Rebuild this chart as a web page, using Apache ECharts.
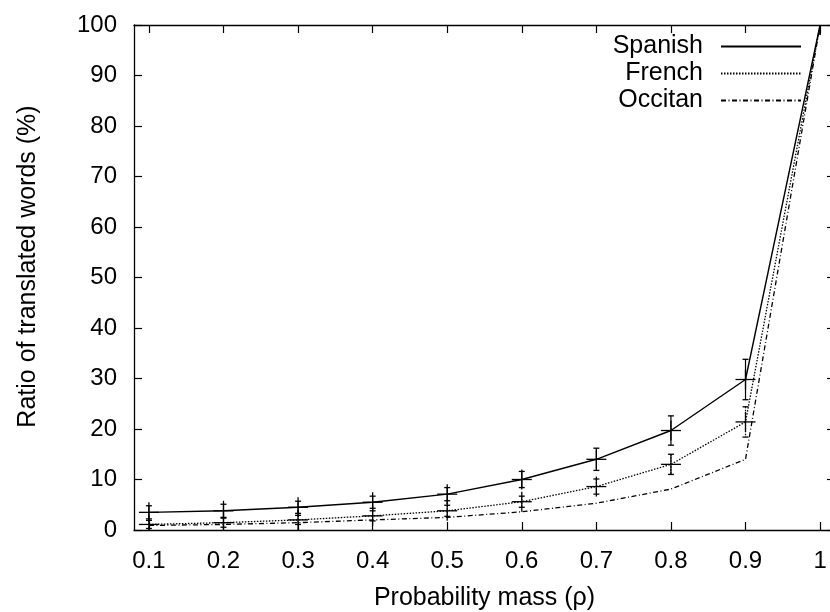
<!DOCTYPE html>
<html>
<head>
<meta charset="utf-8">
<script src="https://cdn.jsdelivr.net/npm/echarts@6/dist/echarts.min.js"></script>
<style>html,body{margin:0;padding:0;background:#fff}#c{width:830px;height:612px}</style>
</head>
<body>
<div id="c"></div>
<script>
var xValues = [0.1, 0.2, 0.3, 0.4, 0.5, 0.6, 0.7, 0.8, 0.9, 1.0];
var xTicks = [0.1, 0.2, 0.3, 0.4, 0.5, 0.6, 0.7, 0.8, 0.9, 1.0];
var spanish = [3.5, 3.8, 4.5, 5.5, 7.1, 10.0, 14.0, 19.7, 29.8, 100];
var spanishErr = [1.3, 1.3, 1.2, 1.2, 1.3, 1.6, 2.2, 2.9, 4.0, 0];
var french = [1.1, 1.45, 2.0, 2.8, 3.8, 5.6, 8.6, 13.0, 21.4, 100];
var frenchErr = [0.8, 0.9, 0.9, 1.0, 1.1, 1.1, 1.5, 2.0, 3.0, 0];
var occitan = [0.9, 1.1, 1.45, 2.0, 2.5, 3.6, 5.3, 8.1, 14.0, 100];
var seriesNames = ['Spanish', 'French', 'Occitan'];

var FONT = '"Liberation Sans", Arial, sans-serif';
var DASH_FR = [1.5, 1.5];
var DASH_OC = [5, 2.5, 1, 2.5];

function pairs(vals) { return xValues.map(function (x, i) { return [x, vals[i]]; }); }
function triples(vals, errs) { return xValues.map(function (x, i) { return [x, vals[i], errs[i]]; }); }

function errRenderer(dash) {
  return function (params, api) {
    var x = api.value(0), y = api.value(1), e = api.value(2);
    var c = api.coord([x, y]);
    var hi = api.coord([x, y + e]);
    var lo = api.coord([x, y - e]);
    var cap = 3, m = 10;
    var sBar = { stroke: '#000', lineWidth: 1.2, lineDash: dash };
    var sSolid = { stroke: '#000', lineWidth: 1.3 };
    var ch = [];
    if (e > 0) {
      ch.push({ type: 'line', shape: { x1: c[0], y1: hi[1], x2: c[0], y2: lo[1] }, style: sBar });
      ch.push({ type: 'line', shape: { x1: c[0] - cap, y1: hi[1], x2: c[0] + cap, y2: hi[1] }, style: sSolid });
      ch.push({ type: 'line', shape: { x1: c[0] - cap, y1: lo[1], x2: c[0] + cap, y2: lo[1] }, style: sSolid });
    }
    ch.push({ type: 'line', shape: { x1: c[0] - m, y1: c[1], x2: c[0] + m, y2: c[1] }, style: sSolid });
    ch.push({ type: 'line', shape: { x1: c[0], y1: c[1] - m, x2: c[0], y2: c[1] + m }, style: sSolid });
    return { type: 'group', children: ch };
  };
}

var chart = echarts.init(document.getElementById('c'), null, { renderer: 'canvas' });
var axisLine = { show: true, onZero: false, lineStyle: { color: '#000', width: 1.3 } };
var tickStyle = { color: '#000', width: 1.2 };

chart.setOption({
  animation: false,
  backgroundColor: '#fff',
  grid: { left: 134, top: 25, right: -5, bottom: 82, outerBoundsMode: 'none', containLabel: false },
  legend: {
    data: seriesNames,
    orient: 'vertical',
    right: 28,
    top: 34,
    align: 'right',
    itemWidth: 80,
    itemHeight: 20,
    itemGap: 2,
    padding: 0,
    itemStyle: { opacity: 0 },
    textStyle: { fontSize: 25, fontFamily: FONT, color: '#000', padding: [0, 13, 0, 0] }
  },
  xAxis: [{
    type: 'value', min: 0.08, max: 1.02, position: 'bottom',
    axisLine: axisLine,
    splitLine: { show: false },
    axisTick: { show: true, inside: true, length: 8, lineStyle: tickStyle, customValues: xTicks },
    axisLabel: { show: true, customValues: xTicks, margin: 19, fontSize: 24, fontFamily: FONT, color: '#000',
      formatter: function (v) { return String(+(+v).toFixed(1)); } },
    name: 'Probability mass (\u03c1)', nameLocation: 'middle', nameGap: 56,
    nameTextStyle: { fontSize: 25, fontFamily: FONT, color: '#000' }
  }, {
    type: 'value', min: 0.08, max: 1.02, position: 'top',
    axisLine: axisLine,
    splitLine: { show: false },
    axisTick: { show: true, inside: true, length: 8, lineStyle: tickStyle, customValues: xTicks },
    axisLabel: { show: false }
  }],
  yAxis: [{
    type: 'value', min: 0, max: 100, interval: 10, position: 'left',
    axisLine: axisLine,
    splitLine: { show: false },
    axisTick: { show: true, inside: true, length: 8, lineStyle: tickStyle },
    axisLabel: { margin: 17, fontSize: 24, fontFamily: FONT, color: '#000' },
    name: 'Ratio of translated words (%)', nameLocation: 'middle', nameGap: 93,
    nameTextStyle: { fontSize: 25, fontFamily: FONT, color: '#000', padding: [0, 0, 0, 22] }
  }, {
    type: 'value', min: 0, max: 100, interval: 10, position: 'right',
    axisLine: axisLine,
    splitLine: { show: false },
    axisTick: { show: true, inside: true, length: 8, lineStyle: tickStyle },
    axisLabel: { show: false }
  }],
  series: [
    { name: 'Spanish', type: 'line', data: pairs(spanish), symbol: 'none', color: '#000',
      lineStyle: { color: '#000', width: 1.4, type: 'solid' } },
    { name: 'French', type: 'line', data: pairs(french), symbol: 'none', color: '#000',
      lineStyle: { color: '#000', width: 1.3, type: DASH_FR } },
    { name: 'Occitan', type: 'line', data: pairs(occitan), symbol: 'none', color: '#000',
      lineStyle: { color: '#000', width: 1.3, type: DASH_OC } },
    { name: 'Spanish err', type: 'custom', data: triples(spanish, spanishErr), renderItem: errRenderer(null), clip: true, z: 3 },
    { name: 'French err', type: 'custom', data: triples(french, frenchErr), renderItem: errRenderer(DASH_FR), clip: true, z: 3 }
  ]
});
</script>
</body>
</html>
